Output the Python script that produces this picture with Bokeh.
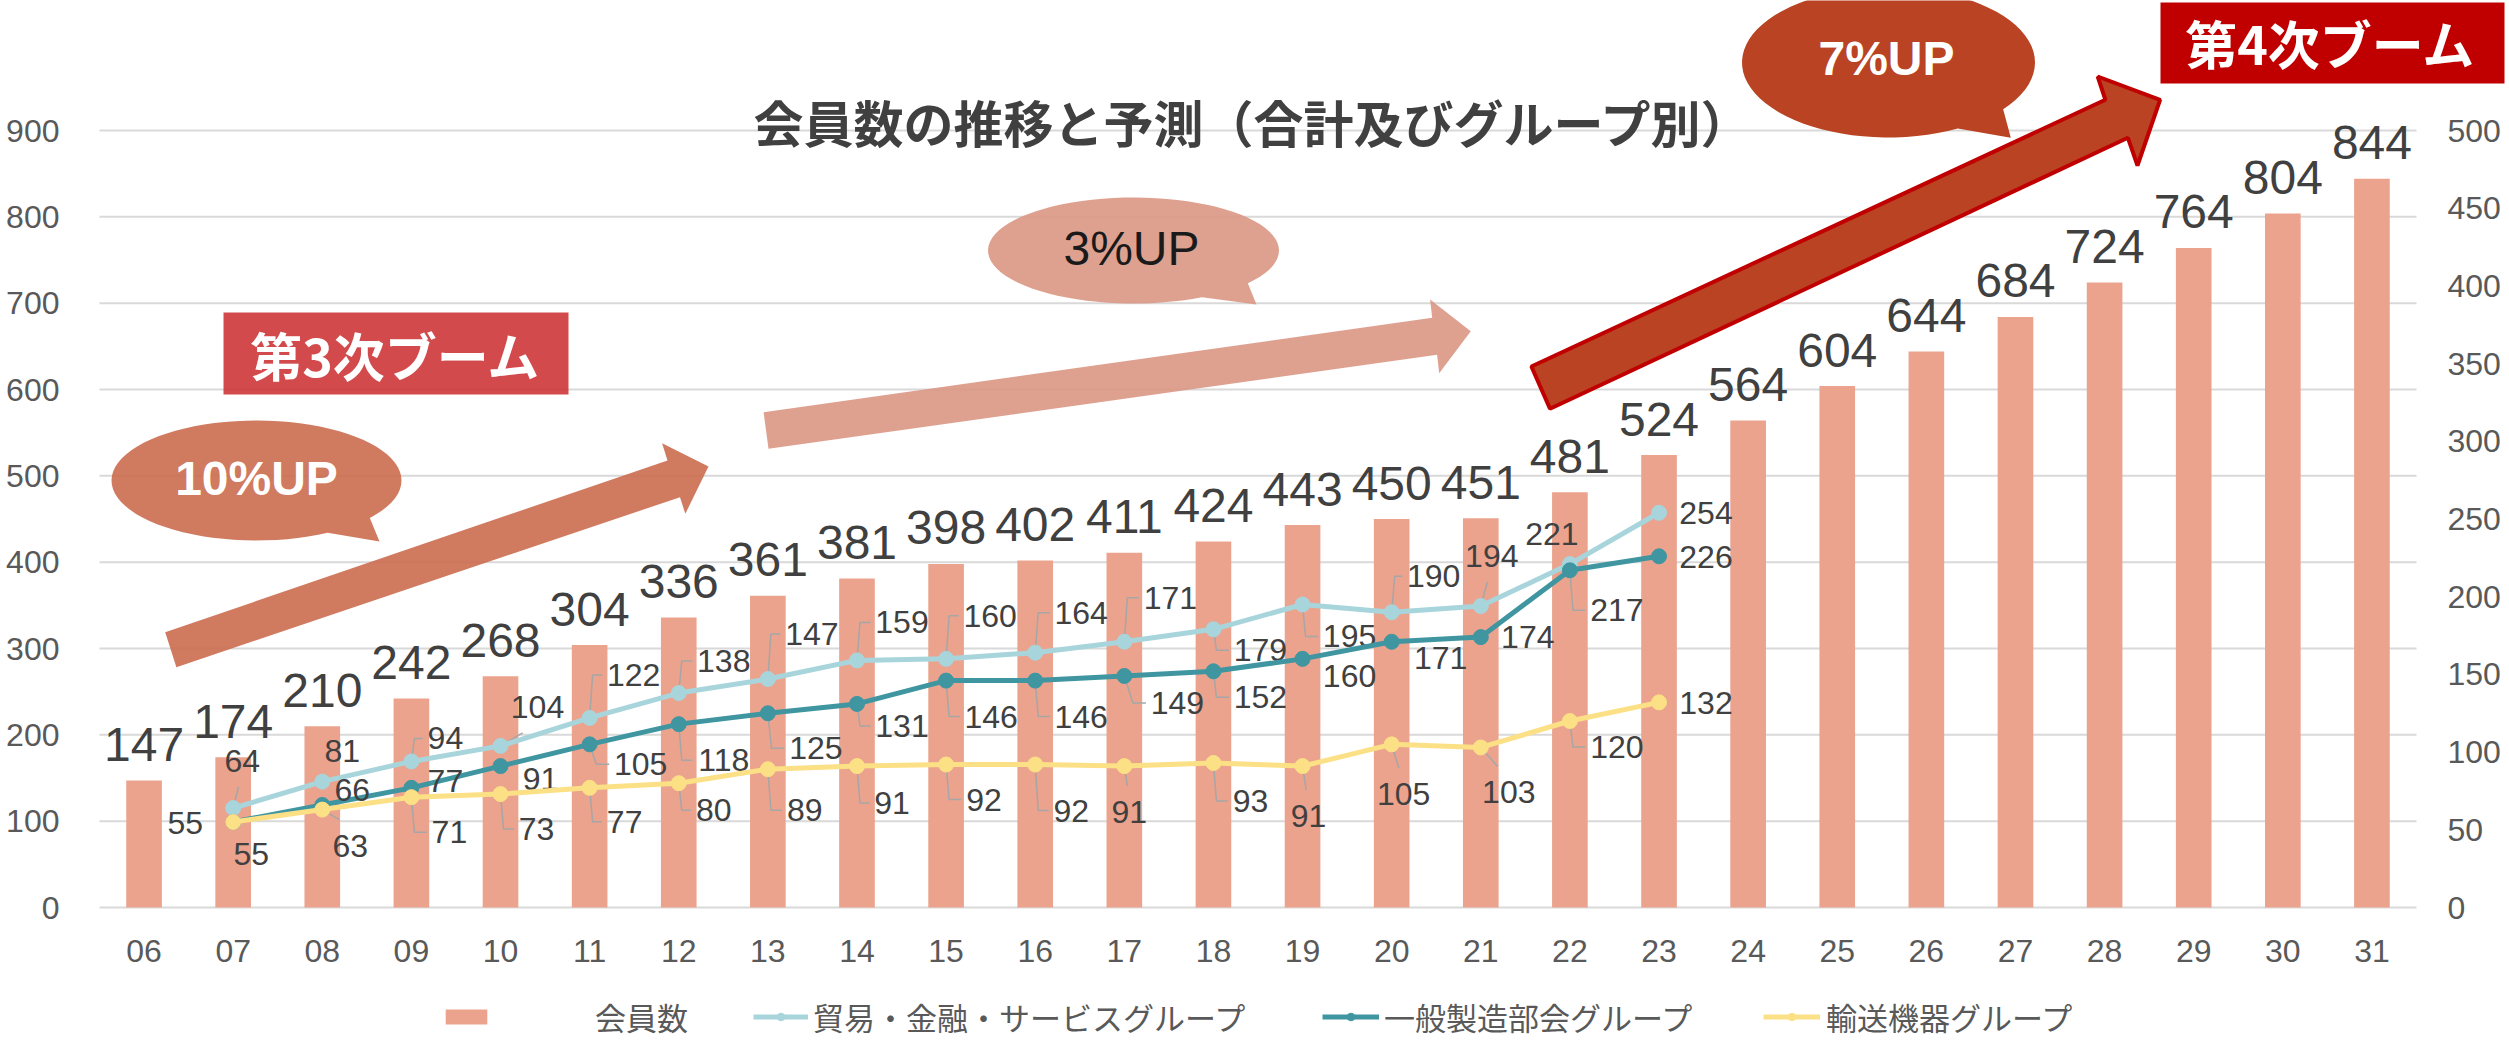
import numpy as np
from bokeh.plotting import figure
from bokeh.models import (Range1d, LinearAxis, FixedTicker, ColumnDataSource, Legend,
                          LegendItem, PolyAnnotation, Label)
from bokeh.core.properties import value
from bokeh.embed import file_html
from bokeh.resources import INLINE

# ---------------- data ----------------
years = ["06", "07", "08", "09", "10", "11", "12", "13", "14", "15", "16", "17", "18",
         "19", "20", "21", "22", "23", "24", "25", "26", "27", "28", "29", "30", "31"]
members = [147, 174, 210, 242, 268, 304, 336, 361, 381, 398, 402, 411, 424, 443, 450,
           451, 481, 524, 564, 604, 644, 684, 724, 764, 804, 844]
group_years = years[1:18]  # 07 .. 23
trade = [64, 81, 94, 104, 122, 138, 147, 159, 160, 164, 171, 179, 195, 190, 194, 221, 254]
manuf = [55, 66, 77, 91, 105, 118, 125, 131, 146, 146, 149, 152, 160, 171, 174, 217, 226]
transport = [55, 63, 71, 73, 77, 80, 89, 91, 92, 92, 91, 93, 91, 105, 103, 120, 132]
left_ticks = [0, 100, 200, 300, 400, 500, 600, 700, 800, 900]
right_ticks = [0, 50, 100, 150, 200, 250, 300, 350, 400, 450, 500]
series_names = ["会員数", "貿易・金融・サービスグループ", "一般製造部会グループ", "輸送機器グループ"]
title_text = "会員数の推移と予測（合計及びグループ別）"

# label offsets (screen px) for the line data labels
trade_dx = [9, 20, 34, 37, 44, 45, 44, 45, 44, 46, 46, 47, 47, 42, 11, -18, 47]
trade_dy = [-47, -31, -23, -39, -43, -32, -45, -38, -43, -40, -44, 21, 32, -36, -50, -30, 0]
manuf_dx = [-48, 30, 34, 40, 51, 45, 48, 45, 45, 46, 53, 47, 47, 49, 47, 47, 47]
manuf_dy = [1, -15, -7, 13, 20, 36, 35, 22, 36, 36, 27, 26, 17, 16, 0, 40, 1]
trans_dx = [18, 28, 38, 36, 35, 35, 37, 35, 38, 36, 5, 37, 6, 12, 28, 47, 47]
trans_dy = [32, 36, 35, 35, 34, 27, 41, 37, 35, 46, 46, 38, 50, 50, 45, 26, 1]

# ---------------- geometry (page px) ----------------
W, H = 2509, 1040
OX, OY = 0, 0                      # page position of the canvas
FL, FR, FB = 99, 2416, 907         # plot area (page px)
Y_PX = (907 - 130) / 900.0
X_PX = (FR - FL) / 26.0
R_FAC = 900.0 / 500.0


def to_data(X, Y):
    return (X - FL) / X_PX - 0.5, (FB - Y) / Y_PX


x0, y_hi = to_data(OX, OY)
x1, y_lo = to_data(OX + W, OY + H)


def poly(points):
    xs, ys = zip(*[to_data(a, b) for a, b in points])
    return list(xs), list(ys)


def bubble(cx, cy, a, b, t_start, t_end, tip):
    t = np.radians(np.linspace(t_start, t_end + 360, 80))
    pts = [(cx + a * np.cos(v), cy + b * np.sin(v)) for v in t]
    pts.append(tip)
    return poly(pts)


FONT = "Liberation Sans"
JFONT = "Noto Sans CJK JP"
LABEL_C = "#404040"
TICK_C = "#595959"
BAR_C = "#EBA38E"
C_TRADE = "#A8D5DC"
C_MANUF = "#3F96A1"
C_TRANS = "#FCE085"

p = figure(width=W, height=H, output_backend="svg", toolbar_location=None,
           x_range=Range1d(x0, x1), y_range=Range1d(y_lo, y_hi),
           x_axis_location=None, y_axis_location=None,
           min_border_left=0, min_border_right=0, min_border_top=0, min_border_bottom=0)
p.extra_y_ranges = {"right": Range1d(y_lo / R_FAC, y_hi / R_FAC)}
p.outline_line_color = None
p.background_fill_color = "white"
p.border_fill_color = "white"
p.xgrid.visible = False
p.ygrid.visible = False

# axes (fixed at the edges of the plot area)
cat_lo, cat_hi = -0.5, len(years) - 0.5
xa = LinearAxis(fixed_location=0, ticker=FixedTicker(ticks=list(range(len(years)))))
xa.major_label_overrides = {i: y for i, y in enumerate(years)}
ya = LinearAxis(fixed_location=cat_lo, ticker=FixedTicker(ticks=left_ticks))
ra = LinearAxis(y_range_name="right", fixed_location=cat_hi,
                ticker=FixedTicker(ticks=right_ticks))
p.add_layout(xa, "below")
p.add_layout(ya, "left")
p.add_layout(ra, "right")
for ax, so in ((xa, 32), (ya, 40), (ra, 31)):
    ax.axis_line_color = None
    ax.major_tick_line_color = None
    ax.minor_tick_line_color = None
    ax.major_tick_out = 0
    ax.major_tick_in = 0
    ax.minor_tick_out = 0
    ax.minor_tick_in = 0
    ax.major_label_text_font = FONT
    ax.major_label_text_font_size = "32px"
    ax.major_label_text_color = TICK_C
    ax.major_label_standoff = so

# horizontal gridlines at the left-axis ticks, across the category span
p.segment(x0=[cat_lo] * len(left_ticks), x1=[cat_hi] * len(left_ticks),
          y0=left_ticks, y1=left_ticks, line_color="#D9D9D9", line_width=2)

# ---------------- bars ----------------
xb = list(range(len(years)))
bar_src = ColumnDataSource(dict(x=xb, top=members, lab=[str(v) for v in members]))
r_bar = p.vbar(x="x", top="top", width=0.4, source=bar_src, fill_color=BAR_C, line_color=None)
p.text(x="x", y="top", text="lab", source=bar_src, text_align="center",
       text_baseline="alphabetic", y_offset=-36, text_font=value(FONT),
       text_font_size="48px", text_color=LABEL_C)

# ---------------- lines ----------------
xl = list(range(1, 18))
renderers = []
for vals, col, dx, dy in ((trade, C_TRADE, trade_dx, trade_dy),
                          (manuf, C_MANUF, manuf_dx, manuf_dy),
                          (transport, C_TRANS, trans_dx, trans_dy)):
    labs = [str(v) for v in vals]
    lx, ly = [], []
    for xi, v, ox, oy, s in zip(xl, vals, dx, dy, labs):
        hw = len(s) * 17.6 / 2
        edge = ox - hw
        pts = None
        if abs(oy) >= 20:
            if edge >= 12:
                pts = [(0, 0), (max(3, edge - 18), oy), (edge - 5, oy)]
            elif abs(oy) > 34:
                pts = [(0, 0), (ox * 0.6, oy - np.sign(oy) * 26)]
        if pts:
            lx.append([xi + a / X_PX for a, b in pts])
            ly.append([v - b / (Y_PX * R_FAC) for a, b in pts])
    if lx:
        p.multi_line(lx, ly, y_range_name="right", line_color="#A6A6A6", line_width=1.5)
    src = ColumnDataSource(dict(x=xl, y=vals, lab=labs, dx=dx, dy=dy))
    rl = p.line("x", "y", source=src, y_range_name="right", line_color=col, line_width=5)
    rs = p.scatter("x", "y", source=src, y_range_name="right", size=15, marker="circle",
                   fill_color=col, line_color=col)
    p.text(x="x", y="y", text="lab", source=src, y_range_name="right",
           x_offset="dx", y_offset="dy", text_align="center", text_baseline="middle",
           text_font=value(FONT), text_font_size="32px", text_color=LABEL_C)
    renderers.append([rl, rs])

# ---------------- legends ----------------
LEG_BOTTOM = 1039   # page y of legend box bottom
leg_specs = [
    (series_names[0], [r_bar], 440, 52, 103),
    (series_names[1], renderers[0], 753, 55, 5),
    (series_names[2], renderers[1], 1322, 57, 5),
    (series_names[3], renderers[2], 1763, 57, 6),
]
for name, rends, gx, gw, so in leg_specs:
    leg = Legend(items=[LegendItem(label=name, renderers=rends)],
                 location=(gx - OX, (OY + H) - LEG_BOTTOM), orientation="horizontal",
                 glyph_width=gw, glyph_height=19, label_standoff=so, label_height=38,
                 padding=0, margin=0, spacing=0, border_line_color=None,
                 background_fill_alpha=0, label_text_font=JFONT,
                 label_text_font_size="31px", label_text_color=TICK_C)
    p.add_layout(leg, "center")


# ---------------- decorations ----------------
def add_poly(points, fill, alpha=1.0, line=None, lw=0):
    xs, ys = points
    p.add_layout(PolyAnnotation(xs=xs, ys=ys, fill_color=fill, fill_alpha=alpha,
                                line_color=line, line_width=lw, line_alpha=1.0))


def add_label(text, X, Y, color, size, font, bold=True):
    x, y = to_data(X, Y)
    p.add_layout(Label(x=x, y=y, text=text, text_align="center", text_baseline="middle",
                       text_color=color, text_font_size=size, text_font=font,
                       text_font_style="bold" if bold else "normal"))


# 10% arrow and bubble
add_poly(poly([(164.7, 631.7), (667, 460), (661.6, 442.7), (708, 466), (684.8, 513.3),
               (679.5, 496.7), (175.9, 666.7)]), "#CB6B4F", 0.9)
add_poly(bubble(256, 480, 145, 60, 60.6, 38.6, (379, 541)), "#CB6B4F", 0.9)
add_label("10%UP", 256, 478, "white", "48px", FONT, True)
# 第3次ブーム box
add_poly(poly([(223, 312), (568, 312), (568, 394), (223, 394)]), "#CD3639", 0.9)
add_label("第3次ブーム", 395, 354, "white", "52px", JFONT, True)
# 3% arrow and bubble
add_poly(poly([(763.1, 411.7), (1431.7, 317.3), (1429.6, 299), (1470.3, 330.7),
               (1438.7, 372.7), (1436.6, 354.3), (768, 448.3)]), "#DA9784", 0.9)
add_poly(bubble(1133, 250, 145.5, 53, 61.9, 38.2, (1256, 304)), "#DA9784", 0.9)
add_label("3%UP", 1131, 248, "#1A1A1A", "48px", FONT, False)
# 7% arrow and bubble
add_poly(poly([(1530.9, 366), (2104.9, 99.3), (2097.2, 76), (2159.6, 99.3), (2137, 165),
               (2127.4, 137.3), (1549.5, 408.3)]), "#B94322", 1.0, "#C00000", 4)
add_poly(bubble(1888, 62, 146.5, 75, 61.8, 38.5, (2010.3, 137.3)), "#B94322", 1.0)
add_label("7%UP", 1886, 58, "white", "48px", FONT, True)
# 第4次ブーム box
add_poly(poly([(2160, 2), (2504, 2), (2504, 83), (2160, 83)]), "#C00000", 1.0)
add_label("第4次ブーム", 2330, 42, "white", "52px", JFONT, True)

# title
add_label(title_text, 1253, 120, LABEL_C, "50px", JFONT, True)

open("out.html", "w").write(file_html(p, INLINE))
